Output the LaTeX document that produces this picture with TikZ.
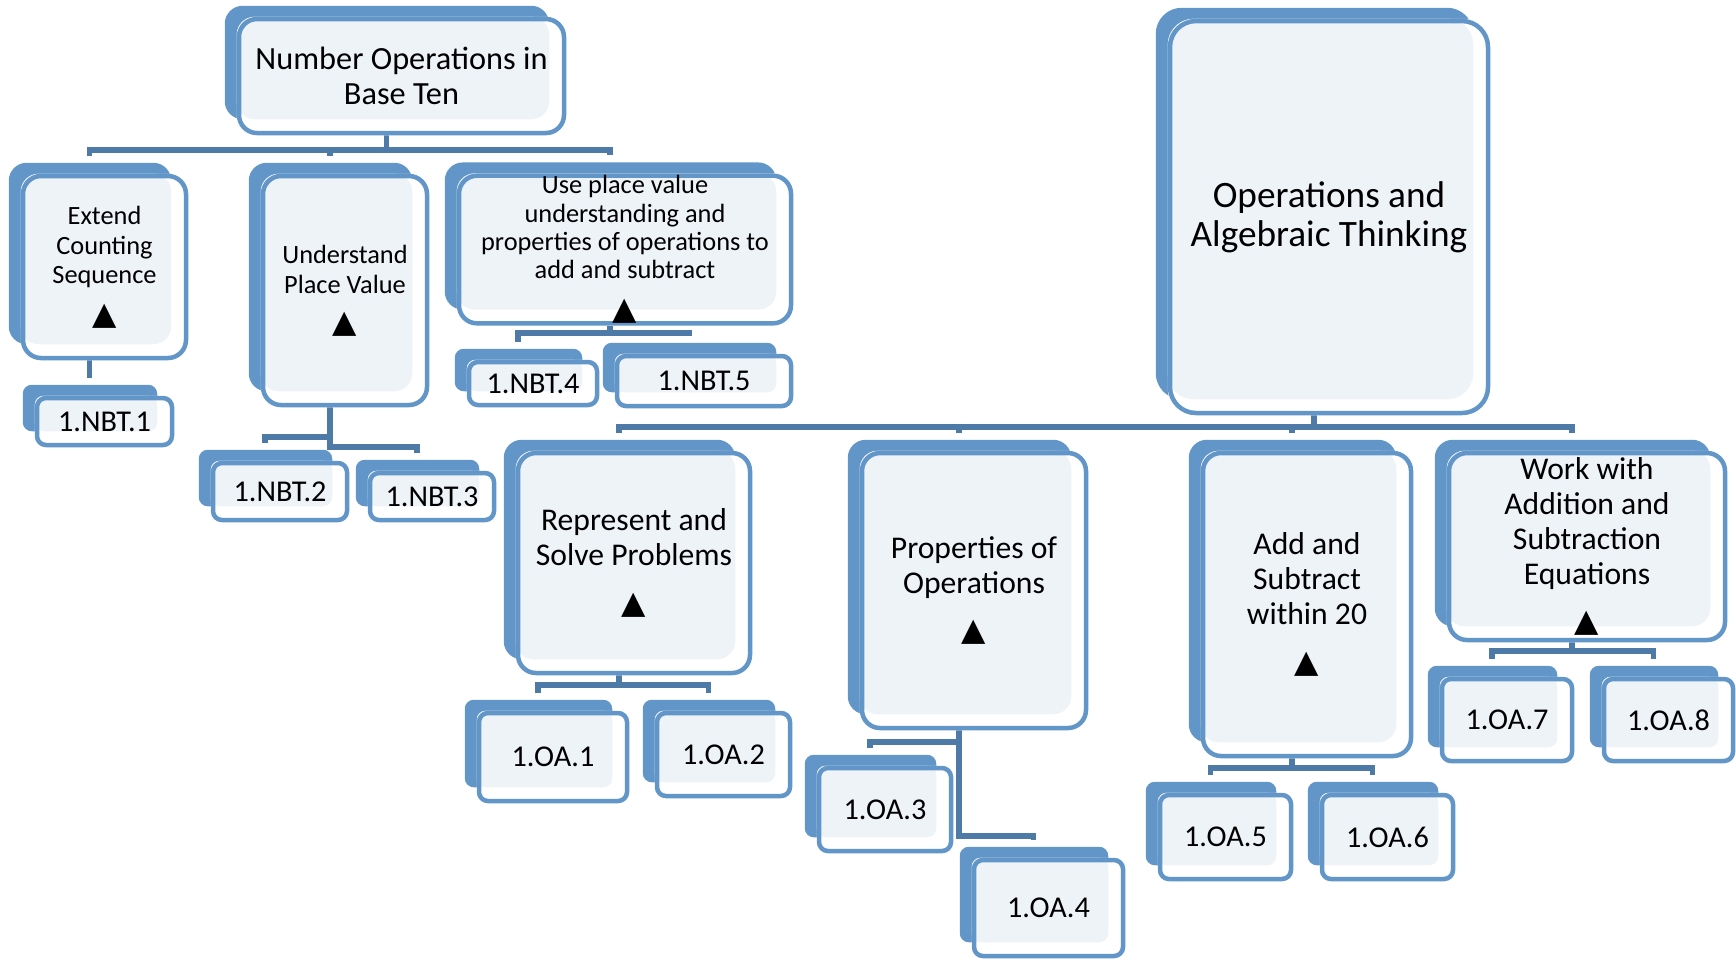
\documentclass[tikz,border=0pt]{standalone}
\usepackage{fontspec}
\setmainfont{Carlito}
\newfontfamily\trifont{DejaVu Sans}
\usetikzlibrary{positioning, calc, backgrounds}
\definecolor{boxblue}{RGB}{98,150,200}
\definecolor{boxlight}{RGB}{238,243,248}
\definecolor{linkblue}{RGB}{78,122,168}
\newcommand{\uptri}{{\trifont\fontsize{9}{9}\selectfont ▲}}
\tikzset{
box/.style={draw=boxblue, line width=0.45mm, inner sep=0pt, align=center, text=black}, % front frame of every box
topic/.style={box, rounded corners=1.8mm, font=\fontsize{9}{9.96}\selectfont}, % strand and cluster boxes
leaf/.style={box, rounded corners=0.9mm, font=\fontsize{8.6}{9.6}\selectfont}, % standard codes
link/.style={draw=linkblue, line width=0.55mm}, % tree lines
}

\begin{document}
\begin{tikzpicture}[x=0.1mm, y=-0.1mm]
    \useasboundingbox (0,0) rectangle (1736,959);

    % Number Operations in Base Ten
    \node[topic, font=\fontsize{9.2}{10}\selectfont, minimum width=32.5mm, minimum height=11.4mm] (nbt) at (401.5,76) {Number Operations in\\Base Ten};
    \node[topic, font=\fontsize{7.5}{8.5}\selectfont, minimum width=16.3mm, minimum height=18.2mm] (ecs) at (104.5,267) {Extend\\Counting\\Sequence\\[3pt]\uptri};
    \node[topic, font=\fontsize{7.5}{8.5}\selectfont, minimum width=16.4mm, minimum height=22.9mm] (upv) at (345,290.5) {Understand\\Place Value\\[2.6pt]\uptri};
    \node[topic, font=\fontsize{7.5}{8}\selectfont, minimum width=33.2mm, minimum height=14.7mm] (upa) at (625,249.5) {Use place value\\understanding and\\properties of operations to\\add and subtract\\[3.7pt]\uptri};
    \node[leaf, minimum width=13.5mm, minimum height=4.7mm] (nbt1) at (104.5,421.5) {1.NBT.1};
    \node[leaf, minimum width=13.4mm, minimum height=5.7mm] (nbt2) at (280,491.5) {1.NBT.2};
    \node[leaf, minimum width=12.4mm, minimum height=4.7mm] (nbt3) at (432,496.5) {1.NBT.3};
    \node[leaf, minimum width=12.8mm, minimum height=4.3mm] (nbt4) at (533,383.5) {1.NBT.4};
    \node[leaf, minimum width=17.4mm, minimum height=5.0mm] (nbt5) at (704,381) {1.NBT.5};

    % Operations and Algebraic Thinking
    \node[topic, rounded corners=2.6mm, font=\fontsize{10.6}{11}\selectfont, minimum width=31.8mm, minimum height=39.2mm] (oat) at (1329,217) {Operations and\\Algebraic Thinking};
    \node[topic, minimum width=23.2mm, minimum height=22mm] (rsp) at (634,563) {Represent and\\Solve Problems\\[3.7pt]\uptri};
    \node[topic, minimum width=22.4mm, minimum height=27.5mm] (pop) at (974,590.5) {Properties of\\Operations\\[3.4pt]\uptri};
    \node[topic, minimum width=20.8mm, minimum height=30.3mm] (asw) at (1307,604.5) {Add and\\Subtract\\within 20\\[3.7pt]\uptri};
    \node[topic, minimum width=27.6mm, minimum height=18.7mm] (wae) at (1587,546.5) {Work with\\Addition and\\Subtraction\\Equations\\[3.4pt]\uptri};
    \node[leaf, minimum width=14.8mm, minimum height=8.8mm] (oa1) at (553,757) {1.OA.1};
    \node[leaf, minimum width=13.3mm, minimum height=8.3mm] (oa2) at (723.5,754.5) {1.OA.2};
    \node[leaf, minimum width=13.2mm, minimum height=8.3mm] (oa3) at (885,809.5) {1.OA.3};
    \node[leaf, minimum width=14.9mm, minimum height=9.6mm] (oa4) at (1048.5,908) {1.OA.4};
    \node[leaf, minimum width=13.1mm, minimum height=8.4mm] (oa5) at (1225.5,837) {1.OA.5};
    \node[leaf, minimum width=13.1mm, minimum height=8.4mm] (oa6) at (1387.5,837) {1.OA.6};
    \node[leaf, minimum width=13.0mm, minimum height=8.2mm] (oa7) at (1507,720) {1.OA.7};
    \node[leaf, minimum width=12.9mm, minimum height=8.2mm] (oa8) at (1668.5,720) {1.OA.8};

    % where the tree lines leave and reach the boxes
    \foreach \nm in {nbt,ecs,upv,upa,nbt1,nbt2,nbt3,nbt4,nbt5,oat,rsp,pop,asw,wae,oa1,oa2,oa3,oa4,oa5,oa6,oa7,oa8} {
        \coordinate (\nm-in) at ($(\nm.north)+(-15,-18)$);
        \coordinate (\nm-out) at ($(\nm.south)+(-15,0)$);
    }
    \coordinate (nbtbus) at (0,150);
    \coordinate (upvbusA) at (0,437);
    \coordinate (upvbusB) at (0,447);
    \coordinate (upabus) at (0,333);
    \coordinate (oatbus) at (0,427);
    \coordinate (rspbus) at (0,685);
    \coordinate (popbusA) at (0,742);
    \coordinate (popbusB) at (0,836);
    \coordinate (aswbus) at (0,768);
    \coordinate (waebus) at (0,651);

    \begin{pgfonlayer}{background}
    \draw[link] (nbt-out) |- (nbtbus -| ecs-in) -- (ecs-in);
    \draw[link] (nbt-out) |- (nbtbus -| upv-in) -- (upv-in);
    \draw[link] (nbt-out) |- (nbtbus -| upa-in) -- (upa-in);
    \draw[link] (ecs-out) -- (nbt1-in);
    \draw[link] (upv-out) |- (upvbusA -| nbt2-in) -- (nbt2-in);
    \draw[link] (upv-out) |- (upvbusB -| nbt3-in) -- (nbt3-in);
    \draw[link] (upa-out) |- (upabus -| nbt4-in) -- (nbt4-in);
    \draw[link] (upa-out) |- (upabus -| nbt5-in) -- (nbt5-in);
    \draw[link] (oat-out) |- (oatbus -| rsp-in) -- (rsp-in);
    \draw[link] (oat-out) |- (oatbus -| pop-in) -- (pop-in);
    \draw[link] (oat-out) |- (oatbus -| asw-in) -- (asw-in);
    \draw[link] (oat-out) |- (oatbus -| wae-in) -- (wae-in);
    \draw[link] (rsp-out) |- (rspbus -| oa1-in) -- (oa1-in);
    \draw[link] (rsp-out) |- (rspbus -| oa2-in) -- (oa2-in);
    \draw[link] (pop-out) |- (popbusA -| oa3-in) -- (oa3-in);
    \draw[link] (pop-out) |- (popbusB -| oa4-in) -- (oa4-in);
    \draw[link] (asw-out) |- (aswbus -| oa5-in) -- (oa5-in);
    \draw[link] (asw-out) |- (aswbus -| oa6-in) -- (oa6-in);
    \draw[link] (wae-out) |- (waebus -| oa7-in) -- (oa7-in);
    \draw[link] (wae-out) |- (waebus -| oa8-in) -- (oa8-in);
    % shadow card behind and pale face inside each box
    \foreach \nm/\rad in {nbt/1.8mm,ecs/1.8mm,upv/1.8mm,upa/1.8mm,oat/2.6mm,rsp/1.8mm,pop/1.8mm,asw/1.8mm,wae/1.8mm,nbt1/0.9mm,nbt2/0.9mm,nbt3/0.9mm,nbt4/0.9mm,nbt5/0.9mm,oa1/0.9mm,oa2/0.9mm,oa3/0.9mm,oa4/0.9mm,oa5/0.9mm,oa6/0.9mm,oa7/0.9mm,oa8/0.9mm} {
        \fill[boxblue, rounded corners=\rad] ($(\nm.north west)+(-12,-11)$) rectangle ($(\nm.south east)+(-17,-16)$);
        \fill[white, rounded corners=\rad] (\nm.north west) rectangle (\nm.south east);
        \fill[boxlight, rounded corners=\rad] (\nm.north west) rectangle ($(\nm.south east)+(-17,-16)$);
    }
    \end{pgfonlayer}
\end{tikzpicture}
\end{document}
